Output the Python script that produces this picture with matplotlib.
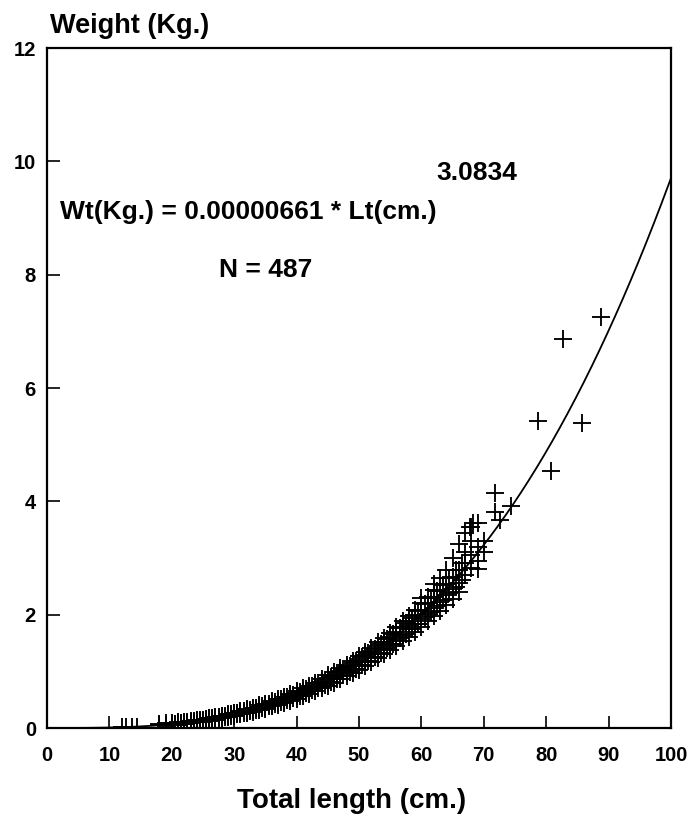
import matplotlib
matplotlib.use("Agg")
import matplotlib.pyplot as plt
import numpy as np

# ---- data ----
coef_a = 0.00000661
coef_b = 3.0834
n_fish = 487

x_ticks = [0, 10, 20, 30, 40, 50, 60, 70, 80, 90, 100]
y_ticks = [0, 2, 4, 6, 8, 10, 12]

length_cm = [
    12.0, 12.7, 13.6, 14.4,
    18, 18, 19, 19, 19, 20, 20, 20, 21, 21, 21, 22, 22, 22, 23, 23, 23,
    24, 24, 24, 24, 25, 25, 25, 26, 26, 26, 26, 27, 27, 27, 28, 28, 28, 28,
    29, 29, 29, 29, 30, 30, 30, 30, 31, 31, 31, 31, 32, 32, 32, 32,
    33, 33, 33, 33, 34, 34, 34, 34, 35, 35, 35, 35, 36, 36, 36, 36,
    37, 37, 37, 37, 38, 38, 38, 38, 39, 39, 39, 39, 40, 40, 40, 40, 40,
    41, 41, 41, 41, 42, 42, 42, 42, 42, 43, 43, 43, 43, 44, 44, 44, 44, 44,
    45, 45, 45, 45, 46, 46, 46, 46, 46, 47, 47, 47, 47, 48, 48, 48, 48, 48,
    49, 49, 49, 49, 50, 50, 50, 50, 50, 51, 51, 51, 51, 52, 52, 52, 52, 52,
    53, 53, 53, 53, 54, 54, 54, 54, 54, 55, 55, 55, 55, 56, 56, 56, 56, 56,
    57, 57, 57, 57, 58, 58, 58, 58, 58, 59, 59, 59, 59, 60, 60, 60, 60, 60,
    61, 61, 61, 61, 62, 62, 62, 62, 62, 63, 63, 63, 63, 64, 64, 64, 64,
    65, 65, 65, 65, 66, 66, 66, 66, 67, 67, 67, 67, 68, 68, 68, 68,
    69, 69, 69, 69, 70, 70,
    20.5, 20.5, 21.5, 21.5, 22.5, 22.5, 23.5, 23.5, 24.5, 24.5, 25.5, 25.5,
    26.5, 26.5, 27.5, 27.5, 28.5, 28.5, 29.5, 29.5, 30.5, 30.5, 31.5, 31.5,
    32.5, 32.5, 33.5, 33.5, 34.5, 34.5, 35.5, 35.5, 36.5, 36.5, 37.5, 37.5,
    38.5, 38.5, 39.5, 39.5, 40.5, 40.5, 41.5, 41.5, 42.5, 42.5, 43.5, 43.5,
    44.5, 44.5, 45.5, 45.5, 46.5, 46.5, 47.5, 47.5, 48.5, 48.5, 49.5, 49.5,
    50.5, 50.5, 51.5, 51.5, 52.5, 52.5, 53.5, 53.5, 54.5, 54.5, 55.5, 55.5,
    56.5, 56.5, 57.5, 57.5, 58.5, 58.5, 59.5, 59.5, 60.5, 60.5, 61.5, 61.5,
    62.5, 62.5, 63.5, 63.5, 64.5, 64.5, 65.5, 65.5, 66.5, 66.5,
    67.8, 68.3, 71.8, 72.6, 71.8, 74.4, 80.8, 78.7, 85.8, 82.7, 88.8,
]
weight_kg = [
    0.02, 0.02, 0.02, 0.02,
    0.05, 0.07, 0.06, 0.08, 0.04, 0.07, 0.09, 0.05, 0.08, 0.10, 0.06, 0.09, 0.11, 0.07, 0.10, 0.12, 0.08,
    0.11, 0.13, 0.10, 0.14, 0.13, 0.15, 0.11, 0.15, 0.17, 0.13, 0.18, 0.17, 0.19, 0.15, 0.19, 0.21, 0.17, 0.22,
    0.21, 0.23, 0.19, 0.25, 0.23, 0.26, 0.21, 0.27, 0.26, 0.28, 0.24, 0.30, 0.28, 0.31, 0.26, 0.33,
    0.31, 0.34, 0.29, 0.36, 0.34, 0.37, 0.31, 0.40, 0.37, 0.40, 0.34, 0.43, 0.41, 0.44, 0.38, 0.47,
    0.44, 0.48, 0.41, 0.51, 0.48, 0.52, 0.45, 0.55, 0.52, 0.57, 0.48, 0.60, 0.56, 0.61, 0.52, 0.65, 0.58,
    0.61, 0.66, 0.56, 0.70, 0.65, 0.71, 0.60, 0.75, 0.68, 0.70, 0.76, 0.65, 0.80, 0.75, 0.82, 0.70, 0.86, 0.78,
    0.81, 0.88, 0.75, 0.93, 0.86, 0.94, 0.80, 0.99, 0.90, 0.92, 1.00, 0.86, 1.06, 0.98, 1.07, 0.91, 1.12, 1.02,
    1.05, 1.14, 0.97, 1.19, 1.11, 1.21, 1.03, 1.27, 1.16, 1.18, 1.28, 1.10, 1.35, 1.25, 1.36, 1.16, 1.42, 1.30,
    1.32, 1.44, 1.23, 1.51, 1.40, 1.52, 1.30, 1.59, 1.46, 1.48, 1.61, 1.38, 1.68, 1.56, 1.70, 1.45, 1.78, 1.64,
    1.65, 1.79, 1.53, 1.88, 1.74, 1.89, 1.61, 1.98, 1.82, 1.83, 1.99, 1.70, 2.08, 1.92, 2.09, 1.79, 2.20, 2.30,
    2.02, 2.20, 1.88, 2.31, 2.12, 2.31, 1.97, 2.43, 2.55, 2.23, 2.42, 2.07, 2.65, 2.34, 2.54, 2.17, 2.79,
    2.45, 2.66, 2.28, 3.00, 2.56, 2.79, 2.40, 3.25, 2.70, 2.92, 3.44, 3.10, 2.82, 3.05, 3.55, 3.30,
    2.95, 3.20, 3.62, 2.80, 3.10, 3.30,
    0.069, 0.078, 0.081, 0.090, 0.093, 0.103, 0.105, 0.118, 0.120, 0.134, 0.137, 0.152,
    0.154, 0.172, 0.173, 0.193, 0.194, 0.216, 0.216, 0.240, 0.240, 0.267, 0.265, 0.296,
    0.292, 0.325, 0.320, 0.357, 0.351, 0.391, 0.383, 0.427, 0.416, 0.464, 0.452, 0.505,
    0.490, 0.547, 0.530, 0.591, 0.572, 0.638, 0.616, 0.687, 0.662, 0.739, 0.711, 0.793,
    0.761, 0.849, 0.814, 0.908, 0.869, 0.970, 0.927, 1.035, 0.988, 1.10, 1.05, 1.18,
    1.12, 1.25, 1.19, 1.33, 1.25, 1.40, 1.33, 1.48, 1.41, 1.57, 1.49, 1.66,
    1.58, 1.76, 1.66, 1.86, 1.75, 1.95, 1.84, 2.06, 1.96, 2.18, 2.05, 2.29,
    2.16, 2.41, 2.26, 2.52, 2.38, 2.65, 2.49, 2.78, 2.61, 2.92,
    3.55, 3.62, 4.14, 3.67, 3.82, 3.92, 4.54, 5.41, 5.38, 6.86, 7.26,
]

# ---- figure ----
W, H = 690, 824
fig = plt.figure(figsize=(W / 100, H / 100), dpi=100)
ax = fig.add_axes([47 / W, 1 - 728 / H, (671 - 47) / W, (728 - 48) / H])

FONT = "Liberation Sans"

ax.plot(length_cm, weight_kg, linestyle="none", marker="+", markersize=13,
        markeredgewidth=1.35, color="black")

curve_x = np.linspace(0, 100, 400)
curve_y = coef_a * curve_x ** coef_b
ax.plot(curve_x, curve_y, color="black", linewidth=1.3)

ax.set_xlim(0, 100)
ax.set_ylim(0, 12)
ax.set_xticks(x_ticks)
ax.set_yticks(y_ticks)
ax.set_xticklabels([str(v) for v in x_ticks], fontsize=14.5, fontweight="bold", family=FONT)
ax.set_yticklabels([str(v) for v in y_ticks], fontsize=14.5, fontweight="bold", family=FONT)
ax.tick_params(axis="both", direction="in", length=9, width=1.2, colors="black")
ax.tick_params(axis="x", pad=13)
ax.tick_params(axis="y", pad=8)
for s in ax.spines.values():
    s.set_linewidth(1.6)

fig.text(50 / W, 1 - 26 / H, "Weight (Kg.)", fontsize=19.5, fontweight="bold",
         family=FONT, ha="left", va="center")
fig.text(352 / W, 1 - 801 / H, "Total length (cm.)", fontsize=20, fontweight="bold",
         family=FONT, ha="center", va="center")

ax.text(2.1, 9.1, "Wt(Kg.) = 0.00000661 * Lt(cm.)", fontsize=19, fontweight="bold",
        family=FONT, ha="left", va="center")
ax.text(68.9, 9.8, "3.0834", fontsize=19, fontweight="bold",
        family=FONT, ha="center", va="center")
ax.text(35.1, 8.08, f"N = {n_fish}", fontsize=19, fontweight="bold",
        family=FONT, ha="center", va="center")

fig.savefig("out.png", dpi=100, facecolor="white")
